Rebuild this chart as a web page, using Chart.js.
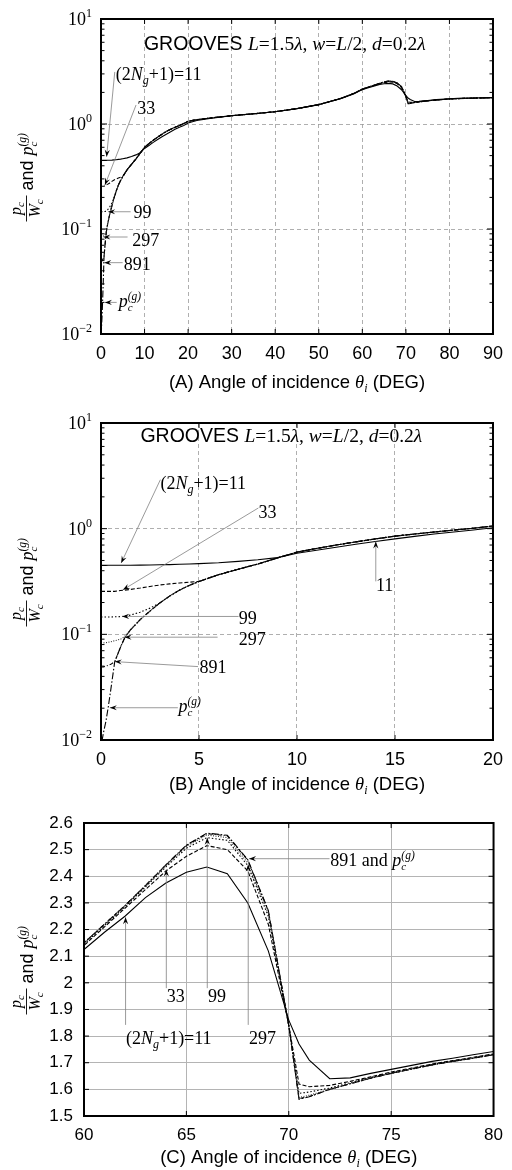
<!DOCTYPE html>
<html lang="en">
<head>
<meta charset="UTF-8">
<title>Grooves: pc/Wc vs angle of incidence</title>
<script src="https://cdn.jsdelivr.net/npm/chart.js@4.4.0/dist/chart.umd.min.js"></script>
<style>
    body { margin: 0; background: #fff; }
    canvas.panel { position: absolute; left: 0; }
</style>
</head>
<body>
<canvas id="chartA" class="panel" width="512" height="395" style="top:0px"></canvas>
<canvas id="chartB" class="panel" width="512" height="400" style="top:395px"></canvas>
<canvas id="chartC" class="panel" width="512" height="375" style="top:795px"></canvas>
<script>
// angle of incidence (deg), shared by all three panels
const angles = [0, 0.05, 0.12, 0.25, 0.37, 0.5, 0.7,
    1, 1.2, 1.5, 2, 2.5, 3, 3.5, 4, 4.5, 5,
    6, 7, 8, 9, 10, 11, 12, 13, 14, 15, 16, 17, 18, 19, 20,
    22, 25, 30, 35, 40, 45, 50, 55, 58,
    60, 61, 62, 63, 64, 65, 66, 67, 68, 69, 70, 70.5, 71, 72, 73, 74, 75, 76, 77, 78, 79, 80,
    82, 85, 88, 90];

// pc/Wc for (2Ng+1) = 11, 33, 99, 297, 891 and pc(g)
const p11 = [0.449, 0.449, 0.449, 0.449, 0.45, 0.45, 0.45,
    0.45, 0.45, 0.451, 0.452, 0.453, 0.455, 0.457, 0.46, 0.463, 0.467,
    0.476, 0.49, 0.508, 0.532, 0.585, 0.625, 0.668, 0.712, 0.757, 0.80, 0.845, 0.89, 0.93, 0.97, 1.02,
    1.08, 1.13, 1.20, 1.25, 1.31, 1.40, 1.53, 1.74, 1.93,
    2.125, 2.19, 2.25, 2.32, 2.375, 2.415, 2.435, 2.41, 2.30, 2.12, 1.86, 1.77, 1.71, 1.64, 1.643, 1.66, 1.675, 1.69, 1.705, 1.717, 1.73, 1.742,
    1.757, 1.77, 1.78, 1.787];
const p33 = [0.255, 0.255, 0.255, 0.255, 0.255, 0.255, 0.255,
    0.26, 0.262, 0.266, 0.274, 0.284, 0.293, 0.30, 0.306, 0.311, 0.317,
    0.367, 0.413, 0.463, 0.528, 0.60, 0.65, 0.70, 0.75, 0.80, 0.85, 0.89, 0.93, 0.97, 1.01, 1.06,
    1.10, 1.14, 1.20, 1.25, 1.31, 1.40, 1.53, 1.75, 1.95,
    2.14, 2.21, 2.28, 2.35, 2.42, 2.475, 2.515, 2.50, 2.42, 2.22, 1.84, 1.62, 1.61, 1.615, 1.63, 1.647, 1.665, 1.68, 1.695, 1.708, 1.72, 1.733,
    1.748, 1.762, 1.774, 1.782];
const p99 = [0.146, 0.146, 0.146, 0.146, 0.146, 0.146, 0.1465,
    0.147, 0.149, 0.152, 0.162, 0.177, 0.198, 0.23, 0.262, 0.29, 0.316,
    0.367, 0.413, 0.463, 0.528, 0.60, 0.65, 0.70, 0.75, 0.80, 0.85, 0.89, 0.93, 0.97, 1.01, 1.06,
    1.10, 1.14, 1.20, 1.25, 1.31, 1.40, 1.53, 1.75, 1.95,
    2.145, 2.215, 2.285, 2.36, 2.435, 2.505, 2.545, 2.535, 2.44, 2.25, 1.84, 1.585, 1.59, 1.605, 1.625, 1.645, 1.662, 1.678, 1.693, 1.706, 1.718, 1.731,
    1.745, 1.76, 1.772, 1.78];
const p297 = [0.083, 0.083, 0.083, 0.0835, 0.084, 0.085, 0.087,
    0.09, 0.095, 0.11, 0.138, 0.166, 0.198, 0.23, 0.262, 0.29, 0.316,
    0.367, 0.413, 0.463, 0.528, 0.60, 0.65, 0.70, 0.75, 0.80, 0.85, 0.89, 0.93, 0.97, 1.01, 1.06,
    1.10, 1.14, 1.20, 1.25, 1.31, 1.40, 1.53, 1.75, 1.95,
    2.148, 2.218, 2.288, 2.362, 2.44, 2.512, 2.555, 2.545, 2.45, 2.26, 1.84, 1.57, 1.578, 1.60, 1.622, 1.643, 1.66, 1.676, 1.692, 1.705, 1.717, 1.73,
    1.745, 1.76, 1.772, 1.78];
const p891 = [0.049, 0.049, 0.0492, 0.05, 0.051, 0.052, 0.055,
    0.076, 0.092, 0.11, 0.138, 0.166, 0.198, 0.23, 0.262, 0.29, 0.316,
    0.367, 0.413, 0.463, 0.528, 0.60, 0.65, 0.70, 0.75, 0.80, 0.85, 0.89, 0.93, 0.97, 1.01, 1.06,
    1.10, 1.14, 1.20, 1.25, 1.31, 1.40, 1.53, 1.75, 1.95,
    2.15, 2.22, 2.29, 2.365, 2.442, 2.515, 2.56, 2.552, 2.46, 2.27, 1.84, 1.565, 1.573, 1.60, 1.621, 1.642, 1.66, 1.676, 1.692, 1.705, 1.717, 1.73,
    1.745, 1.76, 1.772, 1.78];
const pg = [null, 0.0098, 0.0116, 0.015, 0.0205, 0.03, 0.055,
    0.076, 0.092, 0.11, 0.138, 0.166, 0.198, 0.23, 0.262, 0.29, 0.316,
    0.367, 0.413, 0.463, 0.528, 0.60, 0.65, 0.70, 0.75, 0.80, 0.85, 0.89, 0.93, 0.97, 1.01, 1.06,
    1.10, 1.14, 1.20, 1.25, 1.31, 1.40, 1.53, 1.75, 1.95,
    2.15, 2.22, 2.29, 2.365, 2.443, 2.517, 2.562, 2.554, 2.462, 2.272, 1.84, 1.563, 1.572, 1.60, 1.621, 1.642, 1.66, 1.676, 1.692, 1.705, 1.717, 1.73,
    1.745, 1.76, 1.772, 1.78];

const logTicks = [0.01, 0.1, 1, 10];
const ticksC = [1.5, 1.6, 1.7, 1.8, 1.9, 2.0, 2.1, 2.2, 2.3, 2.4, 2.5, 2.6];

const SERIF = '"Liberation Serif", "Times New Roman", serif';
const SANS = '"Liberation Sans", Arial, sans-serif';
const rm = s => s + 'px ' + SERIF;
const it = s => 'italic ' + s + 'px ' + SERIF;
const sn = s => s + 'px ' + SANS;

const series = [
    { data: p11, dash: [] },
    { data: p33, dash: [4, 2] },
    { data: p99, dash: [1.5, 2] },
    { data: p297, dash: [1, 1.5], color: '#333' },
    { data: p891, dash: [4, 2, 1, 2] },
    { data: pg, dash: [7, 2, 1.5, 2] }
];

// rich text pieces
const numRun = t => [{ t: t, f: rm(18) }];
const pgRun = s => [{ t: 'p', f: it(s) }, { t: 'c', f: it(11), dy: 4, stay: true }, { t: '(g)', f: it(11.5), dy: -7 }];
const ngRun = [{ t: '(2', f: rm(18) }, { t: 'N', f: it(18) }, { t: 'g', f: it(12), dy: 4 }, { t: '+1)=11', f: rm(18) }];
const titleRun = [{ t: 'GROOVES ', f: sn(19.5) }, { t: 'L', f: it(19.5) }, { t: '=1.5', f: rm(19.5) }, { t: 'λ', f: it(19.5) },
    { t: ', ', f: rm(19.5) }, { t: 'w', f: it(19.5) }, { t: '=', f: rm(19.5) }, { t: 'L', f: it(19.5) }, { t: '/2, ', f: rm(19.5) },
    { t: 'd', f: it(19.5) }, { t: '=0.2', f: rm(19.5) }, { t: 'λ', f: it(19.5) }];
const xTitle = letter => [{ t: '(' + letter + ') Angle of incidence ', f: sn(18.5) }, { t: 'θ', f: it(18.5) },
    { t: 'i', f: it(12), dy: 4 }, { t: ' (DEG)', f: sn(18.5) }];

// annotations in data coordinates: text baseline position, leader line [from, arrow tip]
const notesA = [
    { runs: titleRun, at: [42.2, 5.07], align: 'center' },
    { runs: ngRun, at: [3.39, 2.62], line: [[3.16, 3.13], [1.29, 0.488]] },
    { runs: numRun('33'), at: [8.35, 1.245], line: [[8.05, 1.517], [0.9, 0.262]] },
    { runs: numRun('99'), at: [7.45, 0.127], line: [[6.8, 0.146], [1.65, 0.146]] },
    { runs: numRun('297'), at: [7.2, 0.0689], line: [[6.1, 0.0839], [0.55, 0.0839]] },
    { runs: numRun('891'), at: [5.2, 0.0407], line: [[4.97, 0.0478], [0.75, 0.0478]] },
    { runs: pgRun(18), at: [4.06, 0.0181], line: [[3.6, 0.02], [0.9, 0.02]] }
];
const notesB = [
    { runs: titleRun, at: [9.2, 6.68], align: 'center' },
    { runs: ngRun, at: [3.03, 2.39], line: [[3.03, 2.91], [1.03, 0.473]] },
    { runs: numRun('33'), at: [8.04, 1.27], line: [[8.03, 1.57], [1.12, 0.264]] },
    { runs: numRun('11'), at: [14.03, 0.258], line: [[14.02, 0.317], [14.02, 0.758]] },
    { runs: numRun('99'), at: [7.03, 0.126], line: [[7.02, 0.1476], [1.08, 0.1476]] },
    { runs: numRun('297'), at: [7.03, 0.0794], line: [[5.95, 0.094], [1.2, 0.094]] },
    { runs: numRun('891'), at: [5.03, 0.0432], line: [[4.95, 0.0495], [0.7, 0.0552]] },
    { runs: pgRun(18), at: [3.95, 0.0184], line: [[3.92, 0.0202], [0.45, 0.0202]] }
];
const notesC = [
    { runs: numRun('891 and ').concat(pgRun(18)), at: [72.03, 2.44], line: [[71.99, 2.466], [68.06, 2.466]] },
    { runs: ngRun, at: [62.05, 1.771], line: [[62.03, 1.842], [62.03, 2.246]] },
    { runs: numRun('33'), at: [64.04, 1.929], line: [[64.02, 1.98], [64.02, 2.425]] },
    { runs: numRun('99'), at: [66.06, 1.929], line: [[66.02, 1.98], [66.02, 2.545]] },
    { runs: numRun('297'), at: [68.06, 1.771], line: [[68.02, 1.842], [68.02, 2.444]] }
];

function runsWidth(ctx, runs) {
    let w = 0;
    for (const r of runs) {
        ctx.font = r.f;
        if (!r.stay) w += ctx.measureText(r.t).width;
    }
    return w;
}

function drawRuns(ctx, x, y, runs, align) {
    ctx.save();
    ctx.fillStyle = '#000';
    ctx.textAlign = 'left';
    ctx.textBaseline = 'alphabetic';
    if (align === 'center') x -= runsWidth(ctx, runs) / 2;
    if (align === 'right') x -= runsWidth(ctx, runs);
    for (const r of runs) {
        ctx.font = r.f;
        ctx.fillText(r.t, x, y + (r.dy || 0));
        if (!r.stay) x += ctx.measureText(r.t).width;
    }
    ctx.restore();
}

function arrow(ctx, x1, y1, x2, y2) {
    ctx.save();
    ctx.strokeStyle = '#808080';
    ctx.lineWidth = 0.8;
    ctx.beginPath();
    ctx.moveTo(x1, y1);
    ctx.lineTo(x2, y2);
    ctx.stroke();
    ctx.translate(x2, y2);
    ctx.rotate(Math.atan2(y2 - y1, x2 - x1));
    ctx.fillStyle = '#000';
    ctx.beginPath();
    ctx.moveTo(0, 0);
    ctx.lineTo(-7, -2.6);
    ctx.lineTo(-4.5, 0);
    ctx.lineTo(-7, 2.6);
    ctx.closePath();
    ctx.fill();
    ctx.restore();
}

function yTitle(ctx, cy) {
    ctx.save();
    ctx.translate(0, cy);
    ctx.rotate(-Math.PI / 2);
    // fraction pc / Wc
    const fx = -45, fw = 26;
    drawRuns(ctx, fx + fw / 2, 21, [{ t: 'p', f: it(16) }, { t: 'c', f: it(11), dy: 3 }], 'center');
    ctx.strokeStyle = '#000';
    ctx.lineWidth = 0.9;
    ctx.beginPath();
    ctx.moveTo(fx, 26.5);
    ctx.lineTo(fx + fw, 26.5);
    ctx.stroke();
    drawRuns(ctx, fx + fw / 2, 40, [{ t: 'W', f: it(16) }, { t: 'c', f: it(11), dy: 3 }], 'center');
    drawRuns(ctx, -14, 33, [{ t: 'and ', f: sn(18) }].concat(pgRun(18)), 'left');
    ctx.restore();
}

function decor(spec) {
    return {
        id: 'decor',
        afterDraw(chart) {
            const ctx = chart.ctx;
            const ca = chart.chartArea;
            const xs = chart.scales.x, ys = chart.scales.y;
            ctx.save();
            ctx.strokeStyle = '#000';
            ctx.lineWidth = 1;
            // inward tick marks on all four sides
            const yMarks = [];
            if (spec.log) {
                for (let e = -2; e <= 0; e++) {
                    for (let k = 1; k <= 9; k++) yMarks.push({ v: k * Math.pow(10, e), len: k === 1 ? 6 : 3.5 });
                }
            } else {
                ticksC.forEach(v => yMarks.push({ v: v, len: 5 }));
            }
            ctx.beginPath();
            yMarks.forEach(m => {
                const py = ys.getPixelForValue(m.v);
                ctx.moveTo(ca.left, py); ctx.lineTo(ca.left + m.len, py);
                ctx.moveTo(ca.right, py); ctx.lineTo(ca.right - m.len, py);
            });
            for (let v = xs.min; v <= xs.max; v += spec.xStep) {
                const px = xs.getPixelForValue(v);
                ctx.moveTo(px, ca.bottom); ctx.lineTo(px, ca.bottom - 5);
                ctx.moveTo(px, ca.top); ctx.lineTo(px, ca.top + 5);
            }
            ctx.stroke();
            // frame
            ctx.lineWidth = 2;
            ctx.strokeRect(ca.left, ca.top, ca.right - ca.left, ca.bottom - ca.top);
            ctx.restore();

            // log tick labels 10^n
            if (spec.log) {
                logTicks.forEach(v => {
                    const e = Math.round(Math.log10(v));
                    const py = ys.getPixelForValue(v);
                    drawRuns(ctx, ca.left - 9, py + 6, [{ t: '10', f: rm(18) },
                        { t: (e < 0 ? '\u2212' : '') + Math.abs(e), f: rm(12), dy: -8 }], 'right');
                });
            }

            // annotations
            spec.notes.forEach(n => {
                if (n.line) {
                    arrow(ctx, xs.getPixelForValue(n.line[0][0]), ys.getPixelForValue(n.line[0][1]),
                        xs.getPixelForValue(n.line[1][0]), ys.getPixelForValue(n.line[1][1]));
                }
                drawRuns(ctx, xs.getPixelForValue(n.at[0]), ys.getPixelForValue(n.at[1]), n.runs, n.align || 'left');
            });

            // axis titles
            drawRuns(ctx, (ca.left + ca.right) / 2, ca.bottom + spec.xTitleGap, xTitle(spec.letter), 'center');
            yTitle(ctx, (ca.top + ca.bottom) / 2);
        }
    };
}

function makeChart(id, spec) {
    const datasets = series.map(s => ({
        data: angles.map((a, i) => ({ x: a, y: s.data[i] })),
        borderColor: s.color || '#000',
        borderWidth: 1.1,
        borderDash: s.dash,
        pointRadius: 0,
        fill: false,
        tension: 0
    }));
    const yScale = spec.log ? {
        type: 'logarithmic',
        min: 0.01,
        max: 10,
        afterBuildTicks: s => { s.ticks = logTicks.map(v => ({ value: v })); },
        ticks: { display: false },
        grid: { color: '#9a9a9a', lineWidth: 0.8, drawTicks: false },
        border: { display: false, dash: [4, 3] },
        afterFit: s => { s.width = spec.leftW; }
    } : {
        type: 'linear',
        min: 1.5,
        max: 2.6,
        afterBuildTicks: s => { s.ticks = ticksC.map(v => ({ value: v })); },
        ticks: {
            color: '#000',
            font: { family: SANS, size: 17 },
            padding: 11,
            callback: v => String(Number(v.toFixed(1)))
        },
        grid: { color: '#b4b4b4', lineWidth: 1, drawTicks: false },
        border: { display: false },
        afterFit: s => { s.width = spec.leftW; }
    };
    return new Chart(document.getElementById(id), {
        type: 'line',
        data: { datasets: datasets },
        options: {
            responsive: false,
            animation: false,
            layout: { padding: { top: spec.top, right: 12, left: 0, bottom: 0 } },
            plugins: { legend: { display: false }, tooltip: { enabled: false } },
            scales: {
                x: {
                    type: 'linear',
                    min: spec.xMin,
                    max: spec.xMax,
                    ticks: {
                        stepSize: spec.xStep,
                        color: '#000',
                        font: { family: SANS, size: spec.log ? 18 : 17 },
                        padding: 9,
                        maxRotation: 0
                    },
                    grid: { color: spec.log ? '#9a9a9a' : '#b4b4b4', lineWidth: spec.log ? 0.8 : 1, drawTicks: false },
                    border: { display: false, dash: spec.log ? [4, 3] : [] },
                    afterFit: s => { s.height = spec.xAxisH; }
                },
                y: yScale
            }
        },
        plugins: [decor(spec)]
    });
}

makeChart('chartA', { letter: 'A', log: true, xMin: 0, xMax: 90, xStep: 10, top: 19, leftW: 101, xAxisH: 61, xTitleGap: 54, notes: notesA });
makeChart('chartB', { letter: 'B', log: true, xMin: 0, xMax: 20, xStep: 5, top: 28, leftW: 101, xAxisH: 55, xTitleGap: 50, notes: notesB });
makeChart('chartC', { letter: 'C', log: false, xMin: 60, xMax: 80, xStep: 5, top: 28, leftW: 84, xAxisH: 54, xTitleGap: 47, notes: notesC });
</script>
</body>
</html>
